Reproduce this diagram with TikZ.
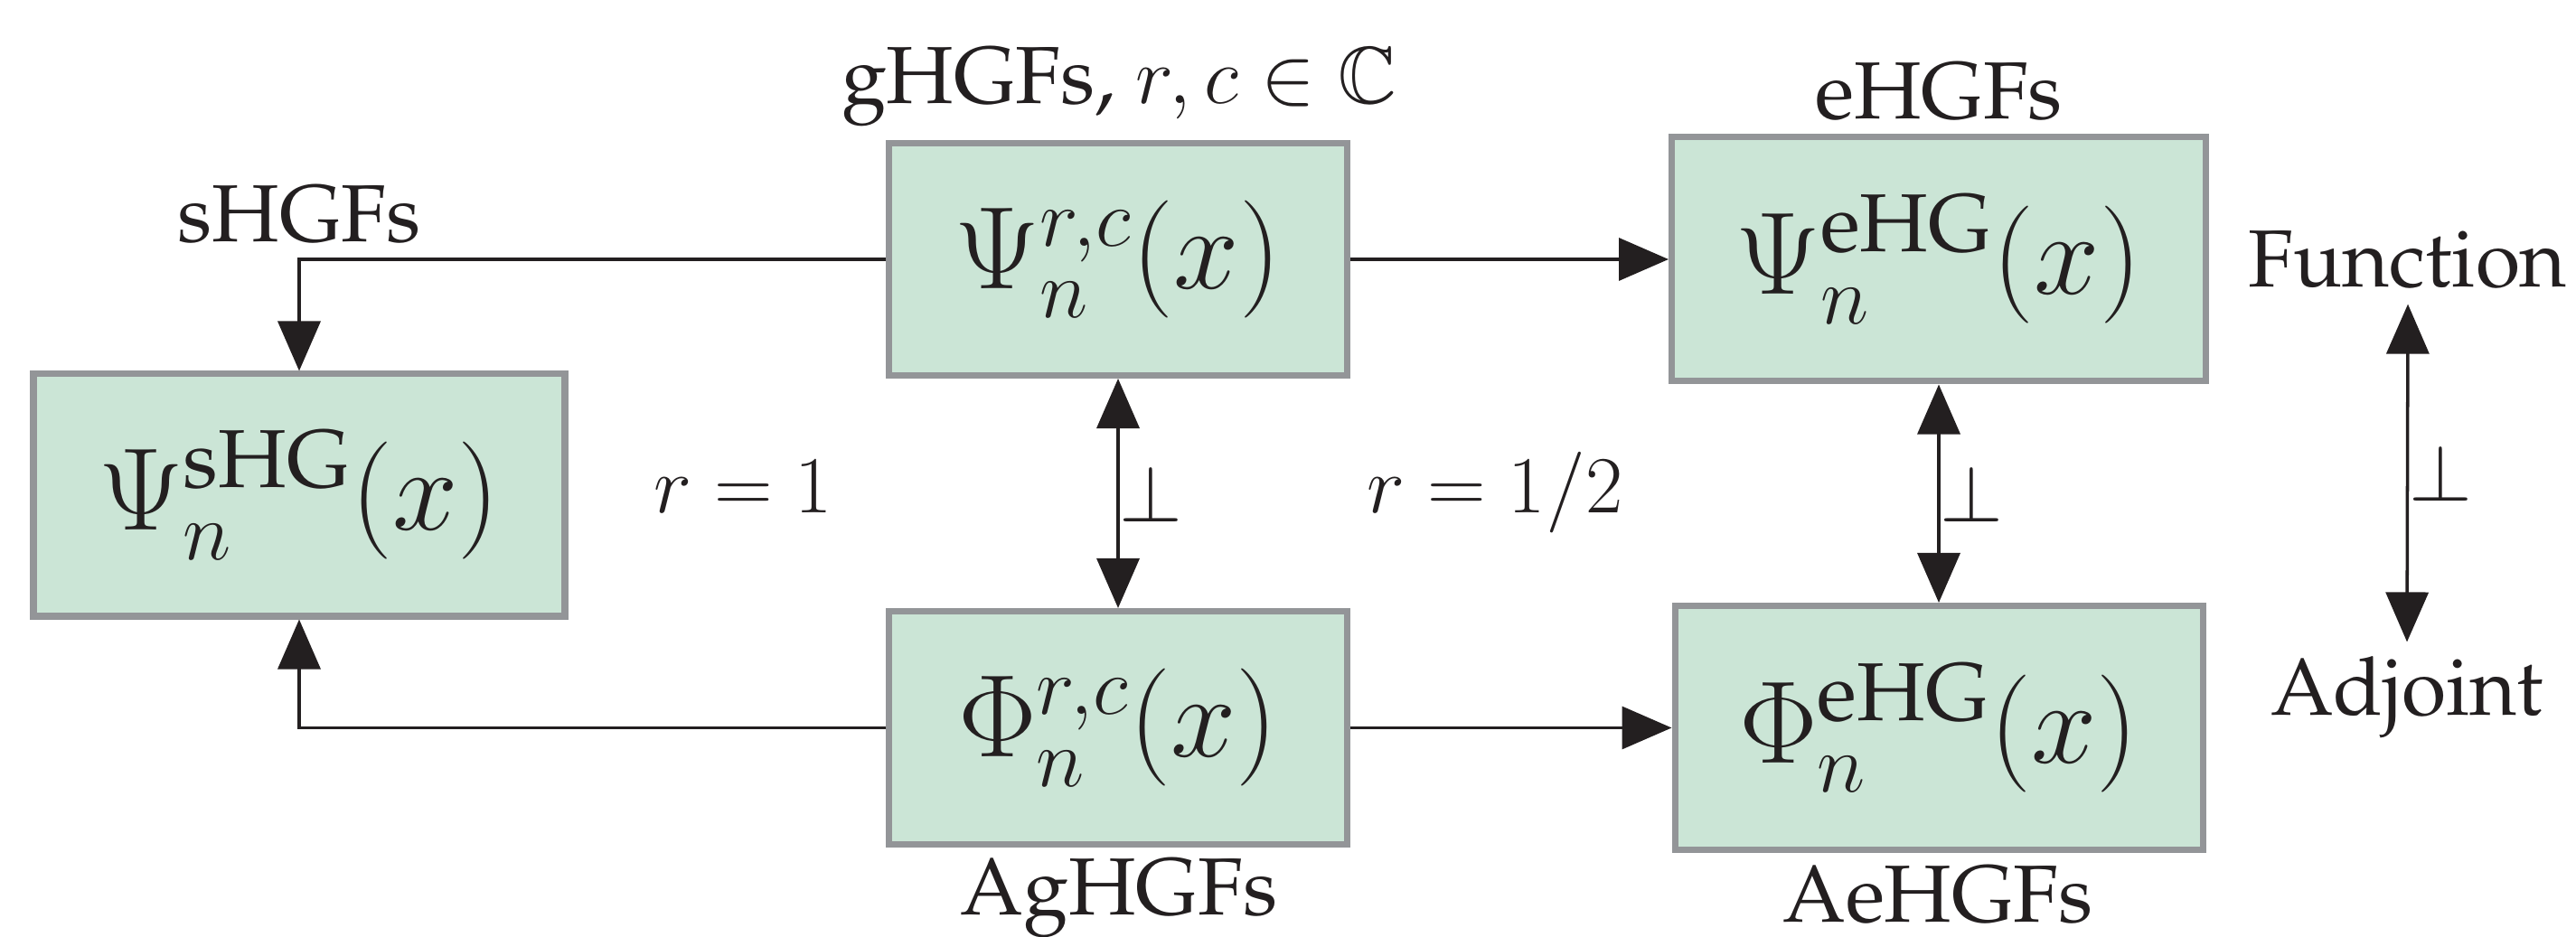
\RequirePackage{fix-cm}
\documentclass[tikz,border=0pt]{standalone}
\usepackage[T1]{fontenc}
\usepackage{palatino}
\usepackage{amsmath,amssymb}
\usepackage{xcolor}
\usetikzlibrary{arrows.meta}
\definecolor{boxgreen}{HTML}{CBE5D6}
\definecolor{boxgray}{HTML}{939598}
\definecolor{inkblack}{HTML}{231F20}
\newcommand{\FL}{\fontsize{25.5}{30}\selectfont}
\newcommand{\FM}{\fontsize{37}{44}\selectfont}

\begin{document}
\begin{tikzpicture}
\tikzstyle{texto}=[draw=none,fill=none,text=inkblack,font=\FL,inner sep=0.16cm]
\tikzstyle{caja}=[draw=boxgray,fill=boxgreen,line width=2pt,text=inkblack,font=\FM,inner sep=0pt]
\tikzstyle{line}=[inkblack,line width=1pt,-{Triangle[length=0.55cm,width=0.47cm]}]
\tikzstyle{dline}=[inkblack,line width=1pt,{Triangle[length=0.55cm,width=0.47cm]}-{Triangle[length=0.55cm,width=0.47cm]}]
\tikzstyle{perp}=[text=inkblack,font=\FL,inner sep=0pt,right]

\useasboundingbox (0,0) rectangle (28.5,10.37);

\node[caja,minimum width=5.88cm,minimum height=2.68cm] (shg) at (3.31,4.89) {$\Psi_n^{\text{sHG}}(x)$};
\node[caja,minimum width=5.07cm,minimum height=2.57cm] (psirc) at (12.37,7.50) {$\Psi_n^{r,c}(x)$};
\node[caja,minimum width=5.07cm,minimum height=2.58cm] (phirc) at (12.37,2.315) {$\Phi_n^{r,c}(x)$};
\node[caja,minimum width=5.91cm,minimum height=2.70cm] (psieh) at (21.45,7.50) {$\Psi_n^{\text{eHG}}(x)$};
\node[caja,minimum width=5.84cm,minimum height=2.70cm] (phieh) at (21.45,2.315) {$\Phi_n^{\text{eHG}}(x)$};

\node[texto,anchor=base] (lshg) at (3.31,7.69) {sHGFs};
\node[texto,anchor=base] (lghg) at (12.38,9.22) {gHGFs, $r,c\in\mathbb{C}$};
\node[texto,anchor=base] (lehg) at (21.45,9.05) {eHGFs};
\node[texto,anchor=base] (lag) at (12.38,0.24) {AgHGFs};
\node[texto,anchor=base] (lae) at (21.44,0.16) {AeHGFs};
\node[texto,anchor=base] (fun) at (26.64,7.19) {Function};
\node[texto,anchor=base] (adj) at (26.63,2.45) {Adjoint};
\node[texto,anchor=base] (rone) at (8.22,4.69) {$r=1$};
\node[texto,anchor=base] (rhalf) at (16.54,4.69) {$r=1/2$};

\draw[line] (psirc.west) -| (shg.north);
\draw[line] (phirc.west) -| (shg.south);
\draw[line] (psirc) -- (psieh);
\draw[line] (phirc) -- (phieh);

\draw[dline] (psirc.south) -- (phirc.north) node[perp,midway] {$\perp$};
\draw[dline] (psieh.south) -- (phieh.north) node[perp,midway] {$\perp$};
\draw[dline] (fun.south) -- (adj.north) node[perp,midway] {$\perp$};
\end{tikzpicture}
\end{document}
